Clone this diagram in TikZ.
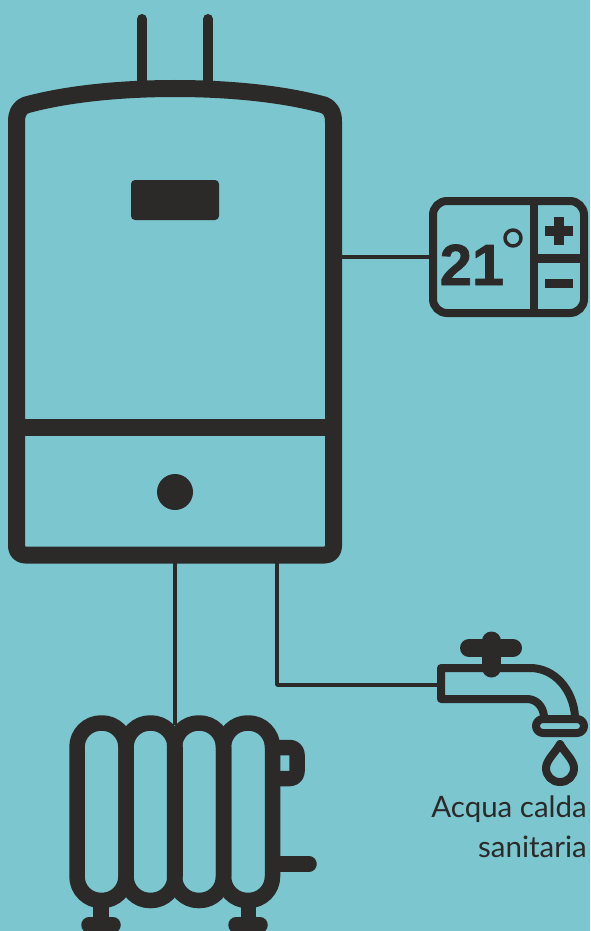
\documentclass[tikz,border=0pt]{standalone}
\usepackage{fontspec}
\setmainfont{Lato}
\newfontfamily\tempfont{Liberation Sans}[BoldFeatures={FakeBold=1.2}]
\definecolor{pagebg}{HTML}{7CC6CF}
\definecolor{ink}{HTML}{2B2A29}
\begin{document}
\begin{tikzpicture}[x=1pt, y=-1pt, line join=round,
    shell/.style={draw=ink, line width=17pt},
    rib/.style={draw=ink, line width=15.5pt},
    tapline/.style={draw=ink, line width=8pt},
    wire/.style={draw=ink, line width=3.5pt},
    flue/.style={draw=ink, line width=10pt, line cap=round},
    label/.style={inner sep=0pt, text=ink, font=\fontsize{29.5}{40}\selectfont, align=right}]
    \useasboundingbox (0,0) rectangle (590,931);
    \clip (0,0) rectangle (590,931);
    \fill[pagebg] (0,0) rectangle (590,931);
    % boiler
    \draw[flue] (142,19) -- (142,85);
    \draw[flue] (208,19) -- (208,85);
    \draw[shell] (16.5,122) .. controls (16.5,113) and (19,108) .. (26,105)
        .. controls (70,93) and (125,88.5) .. (175,88.5)
        .. controls (225,88.5) and (280,93) .. (324,105)
        .. controls (331,108) and (333.5,113) .. (333.5,122)
        -- (333.5,546.5) .. controls (333.5,551.2) and (329.7,555) .. (325,555)
        -- (25,555) .. controls (20.3,555) and (16.5,551.2) .. (16.5,546.5) -- cycle;
    \draw[shell] (16.5,427) -- (333.5,427);
    \node (display) at (175,200) [fill=ink, rounded corners=4pt, inner sep=0pt, minimum width=88pt, minimum height=40pt] {};
    \node (knob) at (175,492) [fill=ink, circle, inner sep=0pt, minimum size=36pt] {};
    \coordinate (boilerright) at (342,257);
    \coordinate (boilerleft) at (175,562);
    \coordinate (boilertap) at (277,562);
    % thermostat
    \node (thermostat) at (508.5,257) [draw=ink, line width=8pt, rounded corners=14pt, inner sep=0pt, minimum width=151pt, minimum height=112pt] {};
    \draw[tapline] (534,201) -- (534,313);
    \draw[tapline, line width=9pt] (534,258) -- (584,258);
    \node (temp) at (472,285) [anchor=base, inner sep=0pt, text=ink, font=\tempfont\bfseries\fontsize{58}{58}\selectfont] {21};
    \node (degree) at (513,238) [draw=ink, line width=3.5pt, circle, inner sep=0pt, minimum size=16pt] {};
    \fill[ink] (545,226) rectangle (573,236);
    \fill[ink] (554,217) rectangle (564,245);
    \fill[ink] (545,279) rectangle (573,288);
    % tap
    \draw[ink, line width=18pt, line cap=round] (469,648) -- (513,648);
    \draw[ink, line width=19pt, line cap=round] (491.5,641) -- (491.5,668);
    \draw[tapline] (530,668) -- (441,668) -- (441,699) -- (527,699)
        .. controls (536,699) and (543,706) .. (544,716);
    \draw[tapline] (530,668) .. controls (555,668) and (573,690) .. (575,716);
    \draw[tapline, rounded corners=7pt] (536,719) rectangle (584,733);
    \draw[tapline] (546,768) .. controls (546,776) and (552,782) .. (560,782)
        .. controls (568,782) and (574,776) .. (574,768)
        .. controls (574,760) and (564,752) .. (560,744)
        .. controls (556,752) and (546,760) .. (546,768) -- cycle;
    \coordinate (tapleft) at (438,685);
    \node (hotwater) at (587,857) [label, anchor=base east] {Acqua calda\\sanitaria};
    % radiator
    \foreach \xa in {77,126,174.5,223.5} {
        \draw[rib, rounded corners=24pt] (\xa,723) rectangle (\xa+49,900.5);
    }
    \draw[rib, rounded corners=7pt] (272,747.5) -- (297,747.5) -- (297,778.5) -- (272,778.5);
    \draw[rib, line cap=round] (276,864) -- (309,864);
    \draw[rib] (101,905) -- (101,925);
    \draw[rib] (248.5,905) -- (248.5,925);
    \draw[rib, line cap=round] (89,925) -- (113,925);
    \draw[rib, line cap=round] (236,925) -- (260,925);
    \coordinate (radiatortop) at (175,725);
    \coordinate (pipebend) at (277,685);
    % connections
    \draw[wire] (boilerright) -- (thermostat.west);
    \draw[wire] (boilerleft) -- (radiatortop);
    \draw[wire] (boilertap) -- (pipebend) -- (tapleft);
\end{tikzpicture}
\end{document}
